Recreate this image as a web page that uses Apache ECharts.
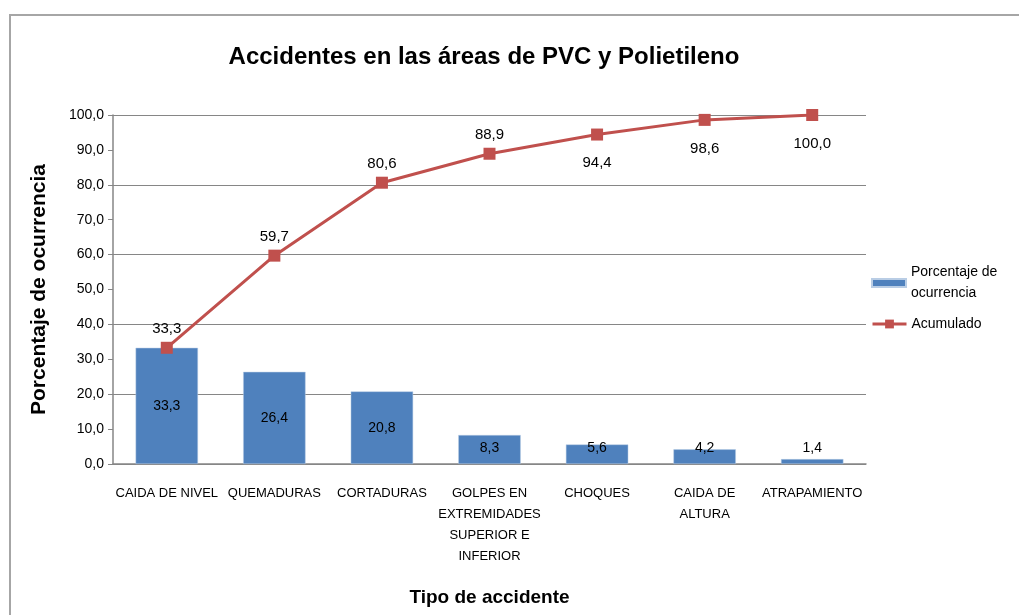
<!DOCTYPE html>
<html>
<head>
<meta charset="utf-8">
<title>Accidentes en las áreas de PVC y Polietileno</title>
<script src="https://cdn.jsdelivr.net/npm/echarts@6/dist/echarts.min.js"></script>
<style>
  html, body { margin: 0; padding: 0; background: #fff; }
  #frame {
    position: absolute; left: 9px; top: 14px; width: 1010px; height: 601px;
    border-left: 2px solid #a6a6a6; border-top: 2px solid #a6a6a6;
    box-sizing: border-box;
  }
  #chart { position: absolute; left: 0; top: 0; width: 1019px; height: 615px; }
</style>
</head>
<body>
<div id="frame"></div>
<div id="chart"></div>
<script>
// datos
const categorias = [
  'CAIDA DE NIVEL',
  'QUEMADURAS',
  'CORTADURAS',
  'GOLPES EN\nEXTREMIDADES\nSUPERIOR E\nINFERIOR',
  'CHOQUES',
  'CAIDA DE\nALTURA',
  'ATRAPAMIENTO'
];
const porcentaje = [33.3, 26.4, 20.8, 8.3, 5.6, 4.2, 1.4];
const acumulado = [33.3, 59.7, 80.6, 88.9, 94.4, 98.6, 100.0];
const yMin = 0;
const yMax = 100;
const yPaso = 10;      // marcas del eje
const yPasoGuia = 20;  // líneas de cuadrícula

const fuente = 'Liberation Sans';
const coma = v => v.toFixed(1).replace('.', ',');

const chart = echarts.init(document.getElementById('chart'));

const option = {
  backgroundColor: 'transparent',
  textStyle: { fontFamily: fuente },
  title: {
    text: 'Accidentes en las áreas de PVC y Polietileno',
    left: 479,
    textAlign: 'center',
    top: 40,
    textStyle: { fontSize: 24, fontWeight: 'bold', color: '#000', fontFamily: fuente }
  },
  // dos leyendas para poder dar tamaño distinto a cada icono
  legend: [
    {
      orient: 'vertical',
      left: 866,
      top: 257,
      itemWidth: 34,
      itemHeight: 8,
      itemGap: 4,
      textStyle: { fontSize: 14, color: '#000', lineHeight: 21 },
      data: [{ name: 'Porcentaje de ocurrencia', icon: 'rect' }],
      formatter: () => 'Porcentaje de\nocurrencia'
    },
    {
      orient: 'vertical',
      left: 866,
      top: 312,
      itemWidth: 34,
      itemHeight: 11,
      textStyle: { fontSize: 14, color: '#000' },
      lineStyle: { width: 3 },
      data: [{ name: 'Acumulado' }]
    }
  ],
  grid: { left: 113, right: 153, top: 115, bottom: 151 },
  xAxis: {
    type: 'category',
    data: categorias,
    name: 'Tipo de accidente',
    nameLocation: 'middle',
    nameGap: 124,
    nameTextStyle: { fontSize: 19, fontWeight: 'bold', color: '#000' },
    axisLine: { lineStyle: { color: '#868686', width: 1.5 } },
    axisTick: { alignWithLabel: true, length: 5, lineStyle: { color: '#868686' } },
    axisLabel: { color: '#000', fontSize: 13, lineHeight: 21, margin: 19, interval: 0 }
  },
  yAxis: [
    {
      type: 'value',
      min: yMin,
      max: yMax,
      interval: yPaso,
      name: 'Porcentaje de ocurrencia',
      nameLocation: 'middle',
      nameGap: 63,
      nameTextStyle: { fontSize: 21, fontWeight: 'bold', color: '#000' },
      axisLine: { show: true, lineStyle: { color: '#868686', width: 1.5 } },
      axisTick: { show: true, length: 5, lineStyle: { color: '#868686' } },
      axisLabel: { color: '#000', fontSize: 14, margin: 9, formatter: v => coma(v) },
      splitLine: { show: false }
    },
    {
      // eje oculto solo para la cuadrícula cada 20
      type: 'value',
      position: 'left',
      min: yMin,
      max: yMax,
      interval: yPasoGuia,
      axisLine: { show: false },
      axisTick: { show: false },
      axisLabel: { show: false },
      splitLine: { show: true, lineStyle: { color: '#868686', width: 1.2 } }
    }
  ],
  series: [
    {
      name: 'Porcentaje de ocurrencia',
      type: 'bar',
      barWidth: '58%',
      itemStyle: { color: '#4f81bd', borderColor: '#b9cde5', borderWidth: 0.5 },
      data: porcentaje.map((v, i) => ({
        value: v,
        label: i < 3
          ? { show: true, position: 'inside' }
          : { show: true, position: 'insideBottom', distance: 9 }
      })),
      label: { color: '#000', fontSize: 14, formatter: p => coma(p.value) },
      z: 2
    },
    {
      name: 'Acumulado',
      type: 'line',
      data: acumulado.map((v, i) => ({
        value: v,
        label: i < 4
          ? { show: true, position: 'top', distance: 5 }
          : { show: true, position: 'bottom', distance: 15 }
      })),
      symbol: 'rect',
      symbolSize: 12,
      lineStyle: { color: '#c0504d', width: 3 },
      itemStyle: { color: '#c0504d' },
      label: { color: '#000', fontSize: 15, formatter: p => coma(p.value) },
      z: 3
    }
  ]
};

chart.setOption(option);
</script>
</body>
</html>
